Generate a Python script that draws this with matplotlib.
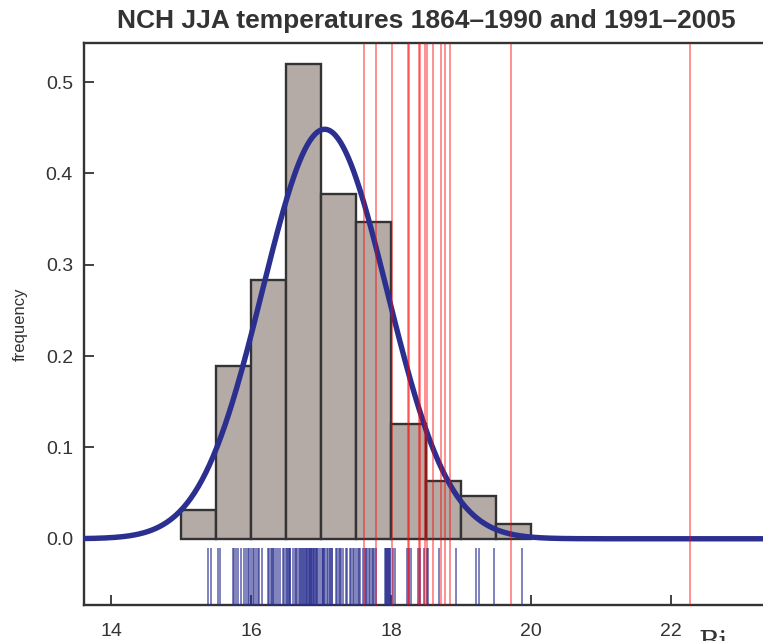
#!/usr/bin/env python3
"""NCH JJA temperatures: histogram of 1864-1990 with normal fit, 1991-2005 as red lines."""

import matplotlib

matplotlib.use("Agg")
import matplotlib.pyplot as plt
import numpy as np

# Histogram of 1864-1990 summer means (bin width 0.5 degC), counts per bin
bin_edges = [15.0, 15.5, 16.0, 16.5, 17.0, 17.5, 18.0, 18.5, 19.0, 19.5, 20.0]
bin_counts = [2, 12, 18, 33, 24, 22, 8, 4, 3, 1]

# Normal fit to the 1864-1990 values
fit_mean = 17.05
fit_sd = 0.89

# Individual 1864-1990 values (rug)
rug_values = [
    15.38, 15.42,
    15.52, 15.55, 15.74, 15.76, 15.78, 15.81, 15.86, 15.89, 15.92, 15.95, 15.97, 15.99,
    16.02, 16.04, 16.07, 16.09, 16.11, 16.15, 16.24, 16.26, 16.28, 16.29, 16.31, 16.33,
    16.36, 16.38, 16.41, 16.45, 16.47, 16.49,
    16.51, 16.52, 16.54, 16.55, 16.56, 16.60, 16.62, 16.64, 16.65, 16.68, 16.70, 16.71,
    16.73, 16.74, 16.75, 16.77, 16.78, 16.79, 16.80, 16.82, 16.83, 16.84, 16.85, 16.86,
    16.87, 16.88, 16.89, 16.90, 16.92, 16.93, 16.94, 16.96, 16.98,
    17.01, 17.02, 17.03, 17.04, 17.05, 17.09, 17.10, 17.12, 17.13, 17.15, 17.16, 17.21,
    17.23, 17.25, 17.27, 17.29, 17.31, 17.35, 17.37, 17.41, 17.43, 17.45, 17.47, 17.50,
    17.52, 17.54, 17.56, 17.60, 17.62, 17.64, 17.66, 17.68, 17.70, 17.72, 17.74, 17.76,
    17.78, 17.91, 17.92, 17.93, 17.94, 17.95, 17.96, 17.97, 17.98, 17.99,
    18.02, 18.05, 18.22, 18.25, 18.29, 18.39, 18.41, 18.47,
    18.51, 18.53, 18.69, 18.93,
    19.21, 19.25, 19.47,
    19.87,
]

# 1991-2005 summer means
recent_values = [
    17.61, 17.79, 18.01, 18.24, 18.26, 18.40, 18.41, 18.49, 18.51,
    18.60, 18.71, 18.77, 18.84, 19.71, 22.27,
]

x_ticks = [14, 16, 18, 20, 22]
y_ticks = [0.0, 0.1, 0.2, 0.3, 0.4, 0.5]

dark = "#333333"
navy = "#2b2f8f"
bar_fill = "#b4aaa6"

plt.rcParams["font.family"] = ["Liberation Sans", "DejaVu Sans"]

fig = plt.figure(figsize=(7.63, 6.41), dpi=100)
ax = fig.add_axes([84 / 763, 1 - 605 / 641, 692 / 763, (605 - 43) / 641])

n_total = sum(bin_counts)
widths = np.diff(bin_edges)
heights = np.array(bin_counts) / (n_total * widths)
ax.bar(bin_edges[:-1], heights, width=widths, align="edge",
       color=bar_fill, edgecolor=dark, linewidth=1.7, zorder=2)

xs = np.linspace(13.0, 24.0, 600)
pdf = np.exp(-0.5 * ((xs - fit_mean) / fit_sd) ** 2) / (fit_sd * np.sqrt(2 * np.pi))
ax.plot(xs, pdf, color=navy, linewidth=3.9, zorder=4, solid_capstyle="butt")

ax.vlines(rug_values, -0.0725, -0.0098, color=navy, alpha=0.7, linewidth=1.2, zorder=3)

for v in recent_values:
    ax.axvline(v, color="red", alpha=0.55, linewidth=1.1, zorder=5)

ax.set_xlim(13.61, 23.5)
ax.set_ylim(-0.0725, 0.5427)
ax.set_xticks(x_ticks)
ax.set_yticks(y_ticks)
ax.set_yticklabels([f"{t:.1f}" for t in y_ticks])
ax.tick_params(direction="in", length=7, width=1.3, color=dark,
               labelcolor=dark, labelsize=14)
ax.tick_params(axis="x", pad=13)
ax.tick_params(axis="y", pad=8)
for side in ["left", "bottom", "top"]:
    ax.spines[side].set_color(dark)
    ax.spines[side].set_linewidth(1.7)
ax.spines["right"].set_visible(False)

ax.set_ylabel("frequency", fontsize=12, color=dark, labelpad=13)
fig.text(0.5 * (113 + 740) / 763, 1 - 21 / 641,
         "NCH JJA temperatures 1864\u20131990 and 1991\u20132005",
         ha="center", va="center", fontsize=19, fontweight="bold", color=dark)

fig.text(698 / 763, 1 - 630 / 641, "Bi", ha="left", va="top",
         fontsize=20, family="DejaVu Serif", color=dark)

fig.savefig("out.png", dpi=100)
plt.close(fig)
